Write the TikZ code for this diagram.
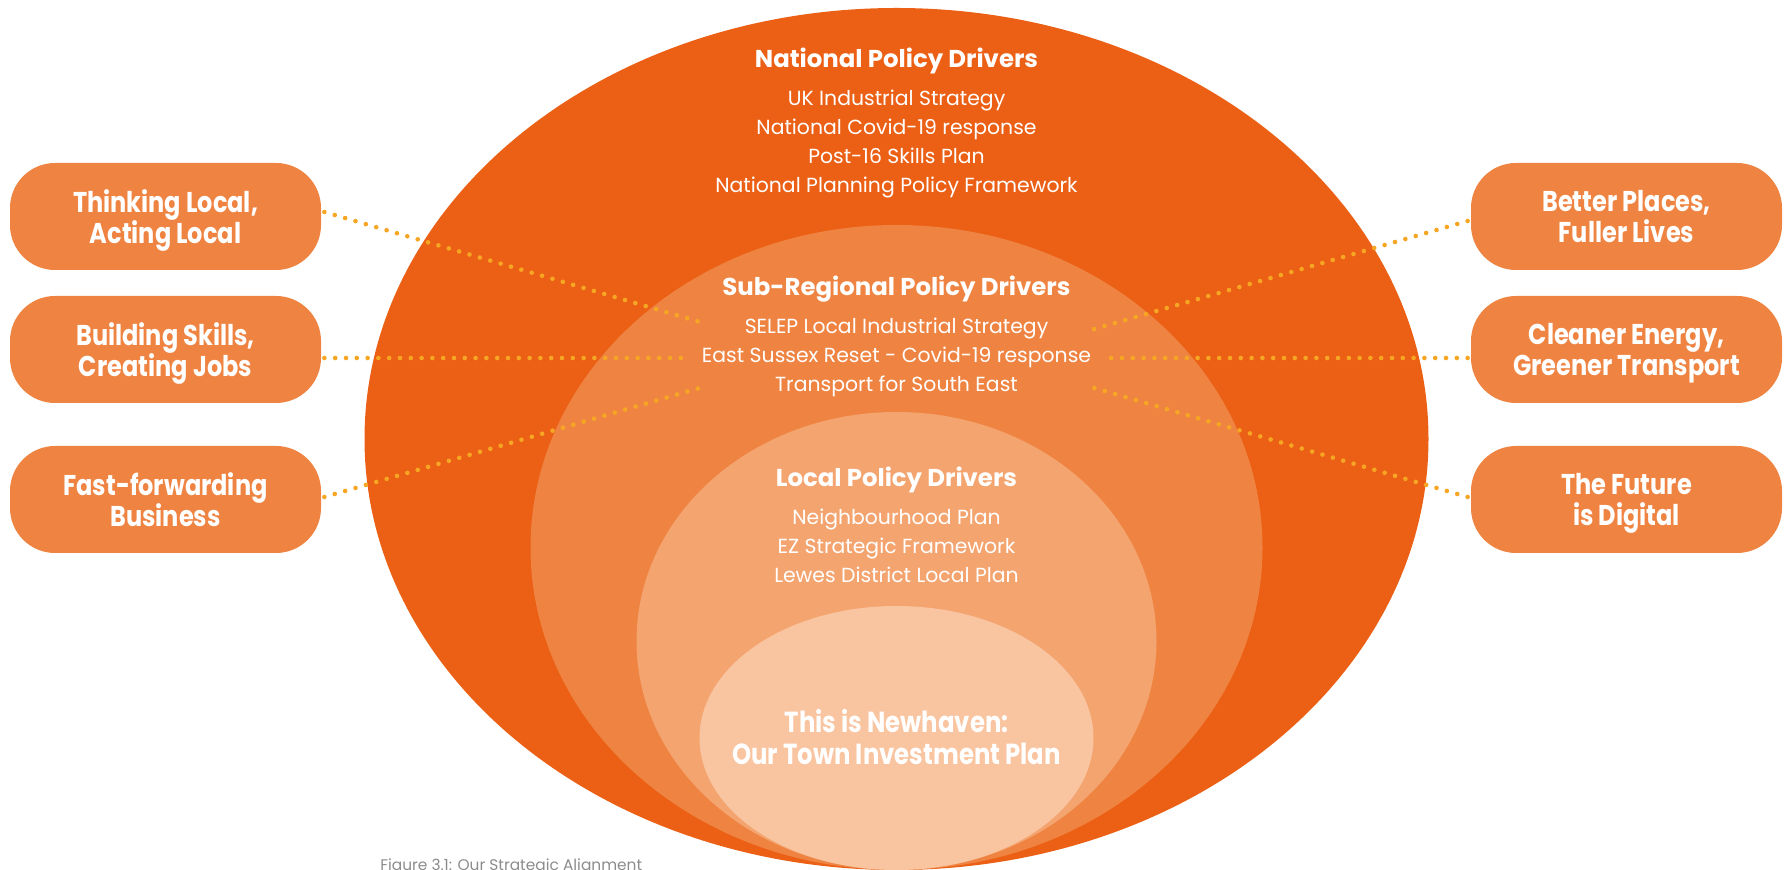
\documentclass[tikz,border=0pt]{standalone}
\usepackage{fontspec}
\setmainfont{Poppins}
\newfontfamily\pillfont{Poppins}[FakeStretch=0.84]
\usetikzlibrary{calc}
\definecolor{cOuter}{HTML}{EB6015}
\definecolor{cSub}{HTML}{EF8442}
\definecolor{cLocal}{HTML}{F4A46F}
\definecolor{cInner}{HTML}{F9C4A0}
\definecolor{cBox}{HTML}{EF8442}
\definecolor{cDot}{HTML}{F6A623}
\definecolor{cCap}{HTML}{8C8C8C}
\tikzset{
  hd/.style={text=white, inner sep=0pt, anchor=base, font=\fontsize{12.2pt}{14pt}\selectfont\bfseries},
  li/.style={text=white, inner sep=0pt, anchor=base, font=\fontsize{10.2pt}{13pt}\selectfont},
  ctr/.style={text=white, inner sep=0pt, anchor=base, font=\pillfont\fontsize{14.5pt}{16pt}\selectfont\bfseries},
  pill/.style={fill=cBox, text=white, rounded corners=22.5pt, minimum width=155.5pt,
    minimum height=53.5pt, inner sep=0pt, align=center, text depth=0pt,
    font=\pillfont\fontsize{14.3pt}{15.5pt}\selectfont\bfseries},
  dots/.style={draw=cDot, line width=2.3pt, line cap=round, dash pattern=on 0pt off 5.4pt},
  capt/.style={text=cCap, inner sep=0pt, anchor=base west, font=\fontsize{7.7pt}{9pt}\selectfont}
}
\begin{document}
\begin{tikzpicture}[x=0.5pt,y=-0.5pt]
\useasboundingbox (0,0) rectangle (1784,870);
\clip (0,0) rectangle (1784,870);
% nested ellipses
\fill[cOuter] (896.5,439) ellipse [x radius=532, y radius=431];
\fill[cSub]   (896.5,547.5) ellipse [x radius=366, y radius=322.5];
\fill[cLocal] (896.5,641) ellipse [x radius=260, y radius=229];
\fill[cInner] (896.5,738) ellipse [x radius=197, y radius=132];

% boxes
\node[pill] (b1) at (165.5,216.5) {Thinking Local,\\Acting Local};
\node[pill] (b2) at (165.5,349.5) {Building Skills,\\Creating Jobs};
\node[pill] (b3) at (165.5,499.5) {Fast-forwarding\\Business};
\node[pill] (b4) at (1626.5,216.5) {Better Places,\\Fuller Lives};
\node[pill] (b5) at (1626.5,349.5) {Cleaner Energy,\\Greener Transport};
\node[pill] (b6) at (1626.5,499.5) {The Future\\is Digital};

% connector ends
\coordinate (l1e) at (700,322);
\coordinate (l2e) at (682,358);
\coordinate (l3e) at (703,387);
\coordinate (r1e) at (1091,330);
\coordinate (r2e) at (1108,358);
\coordinate (r3e) at (1091,387);
\draw[dots] ($(b1.east)+(3,-4.5)$) -- (l1e);
\draw[dots] ($(b2.east)+(3,8.5)$) -- (l2e);
\draw[dots] ($(b3.east)+(3,-2.5)$) -- (l3e);
\draw[dots] ($(b4.west)+(-3,4.5)$) -- (r1e);
\draw[dots] ($(b5.west)+(-3,8.5)$) -- (r2e);
\draw[dots] ($(b6.west)+(-3,-2.5)$) -- (r3e);

% National
\node[hd] (natT) at (896.5,67.5) {National Policy Drivers};
\node[li] (nat1) at (896.5,105.5) {UK Industrial Strategy};
\node[li] (nat2) at (896.5,134.5) {National Covid-19 response};
\node[li] (nat3) at (896.5,163.5) {Post-16 Skills Plan};
\node[li] (nat4) at (896.5,192.5) {National Planning Policy Framework};
% Sub-regional
\node[hd] (subT) at (896.5,295.5) {Sub-Regional Policy Drivers};
\node[li] (sub1) at (896.5,333.5) {SELEP Local Industrial Strategy};
\node[li] (sub2) at (896.5,362.5) {East Sussex Reset - Covid-19 response};
\node[li] (sub3) at (896.5,391.5) {Transport for South East};
% Local
\node[hd] (locT) at (896.5,486.5) {Local Policy Drivers};
\node[li] (loc1) at (896.5,524.5) {Neighbourhood Plan};
\node[li] (loc2) at (896.5,553.5) {EZ Strategic Framework};
\node[li] (loc3) at (896.5,582.5) {Lewes District Local Plan};
% Centre
\node[ctr] (c1) at (896.5,732.5) {This is Newhaven:};
\node[ctr] (c2) at (896.5,764.5) {Our Town Investment Plan};
% caption
\node[capt] (fig) at (380,870.5) {Figure 3.1: Our Strategic Alignment};
\end{tikzpicture}
\end{document}
